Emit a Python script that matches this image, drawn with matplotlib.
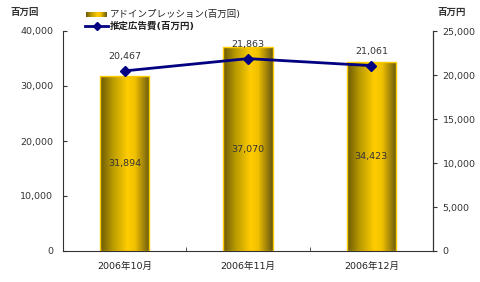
import numpy as np
import matplotlib
matplotlib.use("Agg")
import matplotlib.pyplot as plt
from matplotlib.colors import LinearSegmentedColormap

plt.rcParams['font.family'] = ['DejaVu Sans', 'Noto Sans CJK JP']

categories = ["2006年10月", "2006年11月", "2006年12月"]
impressions = [31894, 37070, 34423]
ad_cost = [20467, 21863, 21061]
left_ticks = [0, 10000, 20000, 30000, 40000]
right_ticks = [0, 5000, 10000, 15000, 20000, 25000]

FS = 6.8
fig = plt.figure(figsize=(4.8, 2.82), dpi=100)
ax = fig.add_axes([63/480, 1-251/282, 370/480, 220/282])
ax2 = ax.twinx()

x = np.arange(len(categories))
cmap = LinearSegmentedColormap.from_list(
    "gold", [(0, "#6a5808"), (0.25, "#b89a00"), (0.55, "#ffcc00"), (0.7, "#f2c200"), (1.0, "#665610")])
bars = ax.bar(x, impressions, width=0.4, facecolor="none", edgecolor="#ffcc00", linewidth=1.0, zorder=2)
grad = np.linspace(0, 1, 256).reshape(1, -1)
for b in bars:
    bx, by = b.get_x(), b.get_y()
    w, h = b.get_width(), b.get_height()
    im = ax.imshow(grad, cmap=cmap, extent=[bx, bx + w, by, by + h], aspect="auto", zorder=1)
    im.set_clip_path(b)
for xi, v in zip(x, impressions):
    ax.text(xi, v / 2, f"{v:,}", ha="center", va="center", fontsize=FS, color="#333333", zorder=5)

ax.set_xlim(-0.5, 2.5)
ax.set_ylim(0, 40000)
ax.set_yticks(left_ticks)
ax.set_yticklabels([f"{t:,}" for t in left_ticks], fontsize=FS, color="#333333")
ax.set_xticks(x)
ax.set_xticklabels(categories, fontsize=FS, color="#222222")
ax.tick_params(axis="x", length=0, pad=8)
ax.set_xticks([0.5, 1.5], minor=True)
ax.tick_params(axis="x", which="minor", direction="in", length=3, color="#333333")
ax.tick_params(axis="y", direction="in", length=3, pad=7, color="#333333")
ax.spines["top"].set_visible(False)
ax2.spines["top"].set_visible(False)
for s in ["left", "bottom"]:
    ax.spines[s].set_color("#333333")
ax2.spines["right"].set_color("#333333")
ax2.spines["left"].set_visible(False)
ax2.spines["bottom"].set_visible(False)

ax2.plot(x, ad_cost, color="#000080", linewidth=2, marker="D", markersize=5.5, zorder=6)
ax2.set_ylim(0, 25000)
ax2.set_yticks(right_ticks)
ax2.set_yticklabels([f"{t:,}" for t in right_ticks], fontsize=FS, color="#333333")
ax2.tick_params(axis="y", direction="out", length=3, pad=4, color="#333333")
for xi, v in zip(x, ad_cost):
    ax2.annotate(f"{v:,}", (xi, v), xytext=(0, 7), textcoords="offset points",
                 ha="center", va="bottom", fontsize=FS, color="#333333")

fig.text(25/480, 1-12/282, "百万回", fontsize=FS, fontweight="bold", ha="center", va="center", color="#333333")
fig.text(452/480, 1-12/282, "百万円", fontsize=FS, fontweight="bold", ha="center", va="center", color="#333333")

# legend
lax = fig.add_axes([0, 0, 1, 1], facecolor="none")
lax.axis("off")
lax.imshow(grad, cmap=cmap, extent=[86, 107, 17, 12], aspect="auto")
lax.set_xlim(0, 480)
lax.set_ylim(282, 0)
lax.plot([85, 108], [26, 26], color="#000080", linewidth=2)
lax.plot([97], [26], marker="D", color="#000080", markersize=4)
lax.text(110, 14, "アドインプレッション(百万回)", fontsize=FS, va="center", ha="left", color="#222222")
lax.text(110, 26, "推定広告費(百万円)", fontsize=FS, va="center", ha="left", color="#222222", fontweight="bold")

fig.savefig("out.png", dpi=100)
